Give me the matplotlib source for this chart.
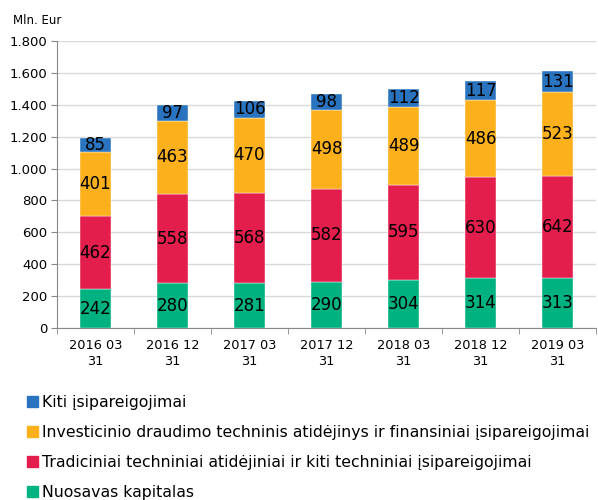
import numpy as np
import matplotlib.pyplot as plt
from matplotlib.patches import Patch

categories = ["2016 03\n31", "2016 12\n31", "2017 03\n31", "2017 12\n31",
              "2018 03\n31", "2018 12\n31", "2019 03\n31"]
kapitalas = [242, 280, 281, 290, 304, 314, 313]
tradiciniai = [462, 558, 568, 582, 595, 630, 642]
investicinio = [401, 463, 470, 498, 489, 486, 523]
kiti = [85, 97, 106, 98, 112, 117, 131]

series = [
    ("Nuosavas kapitalas", kapitalas, "#00b27f"),
    ("Tradiciniai techniniai atidėjiniai ir kiti techniniai įsipareigojimai", tradiciniai, "#e31e4c"),
    ("Investicinio draudimo techninis atidėjinys ir finansiniai įsipareigojimai", investicinio, "#fbb01c"),
    ("Kiti įsipareigojimai", kiti, "#2a73be"),
]

fig = plt.figure(figsize=(5.98, 5.0), dpi=100)
ax = fig.add_axes([0.095, 0.344, 0.902, 0.574])

x = np.arange(len(categories))
bottom = np.zeros(len(categories))
for name, vals, col in series:
    vals = np.array(vals)
    ax.bar(x, vals, 0.4, bottom=bottom, color=col, edgecolor="white", linewidth=0.3, zorder=3)
    for xi, b, v in zip(x, bottom, vals):
        ax.text(xi, b + v / 2, str(v), ha="center", va="center", fontsize=12, color="black", zorder=4)
    bottom += vals

ax.set_xlim(-0.5, len(categories) - 0.5)
ax.set_ylim(0, 1800)
yt = np.arange(0, 1801, 200)
ax.set_yticks(yt)
ax.set_yticklabels([f"{v:,}".replace(",", ".") for v in yt], fontsize=9.5)
ax.set_xticks(x)
ax.set_xticklabels(categories, fontsize=9.3, linespacing=1.25)
ax.set_xticks(np.arange(-0.5, len(categories)), minor=True)
ax.tick_params(axis="x", which="major", length=0, pad=8)
ax.tick_params(axis="x", which="minor", length=4, color="#888888")
ax.tick_params(axis="y", length=4, color="#888888", pad=3)
ax.grid(axis="y", color="#d9d9d9", linewidth=1, zorder=0)
for s in ["top", "right"]:
    ax.spines[s].set_visible(False)
for s in ["left", "bottom"]:
    ax.spines[s].set_color("#888888")

fig.text(0.022, 0.952, "Mln. Eur", fontsize=8.5)

handles = [Patch(color=c) for _, _, c in series[::-1]]
labels = [n for n, _, _ in series[::-1]]
fig.legend(handles, labels, loc="upper left", bbox_to_anchor=(0.035, 0.222), frameon=False,
           fontsize=11.3, handlelength=0.7, handleheight=0.7, handletextpad=0.25,
           labelspacing=0.95, borderaxespad=0)

fig.savefig("out.png", dpi=100)
